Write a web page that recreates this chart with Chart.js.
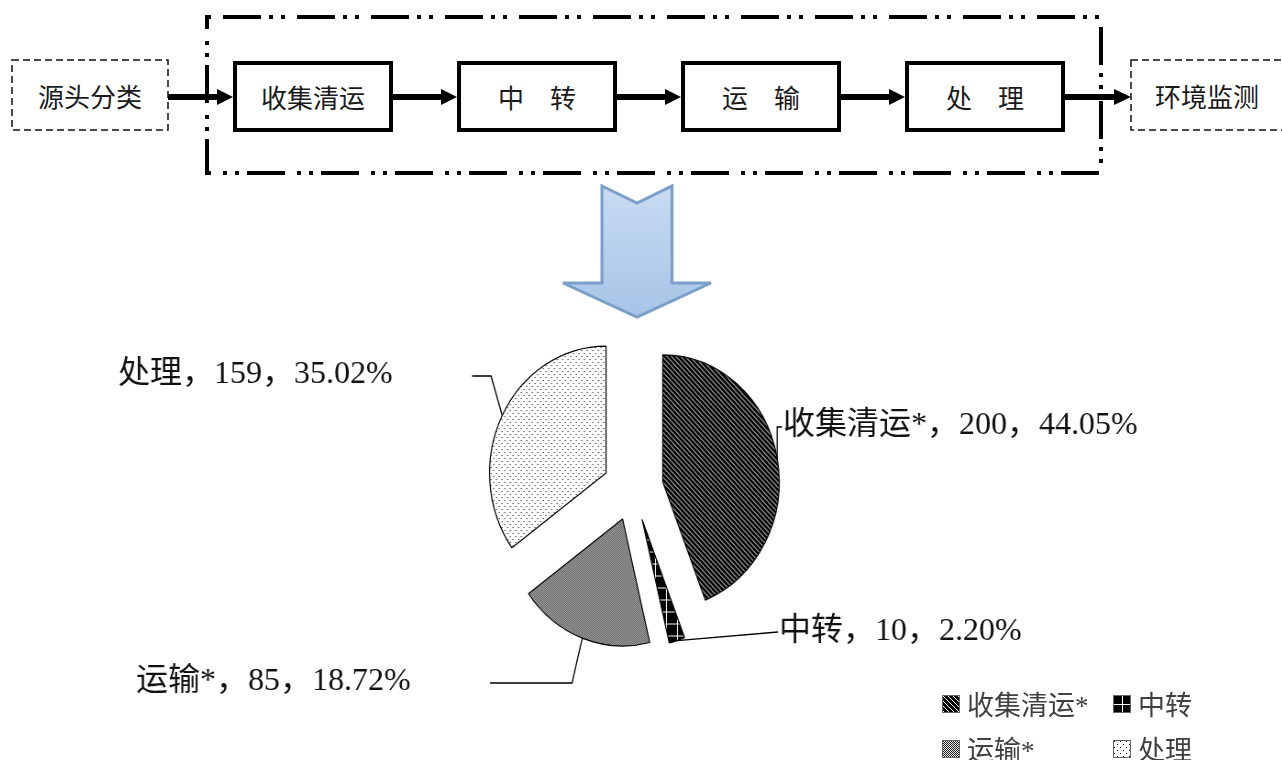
<!DOCTYPE html>
<html>
<head>
<meta charset="utf-8">
<script src="https://cdn.jsdelivr.net/npm/chart.js@4/dist/chart.umd.min.js"></script>
<style>
  html, body { margin: 0; width: 1282px; height: 760px; overflow: hidden; background: #fff; }
  #flow { position: absolute; left: 0; top: 0; }
  #flow text { font-family: 'Noto Sans CJK SC', sans-serif; font-size: 26px; fill: #1a1a1a; }
  #pieWrap { position: absolute; left: -67px; top: 238px; width: 1400px; height: 500px;
             transform: scaleX(0.917); transform-origin: 50% 50%; }
  #legend { position: absolute; left: 942px; top: 681px; display: grid;
            grid-template-columns: 171px 120px; grid-auto-rows: 45px;
            font-family: 'Liberation Serif', 'Noto Sans CJK SC', serif; font-size: 27px; color: #404040; }
  #legend .item { display: flex; align-items: center; }
  #legend canvas { margin-right: 7px; }
</style>
</head>
<body>

<!-- process flow above the pie -->
<svg id="flow" width="1282" height="330">
  <defs>
    <linearGradient id="downFill" x1="0" y1="0" x2="0" y2="1">
      <stop offset="0" stop-color="#c8dbf2"/>
      <stop offset="1" stop-color="#a6c4e7"/>
    </linearGradient>
  </defs>
  <rect x="207" y="17" width="894" height="156" fill="none" stroke="#000" stroke-width="4"
        stroke-dasharray="4 12 38 8 4 8"/>
  <rect x="12" y="60" width="156" height="70" fill="none" stroke="#111" stroke-width="1.5" stroke-dasharray="7 4"/>
  <rect x="1131" y="60" width="170" height="70" fill="none" stroke="#111" stroke-width="1.5" stroke-dasharray="7 4"/>
  <g fill="none" stroke="#000" stroke-width="4">
    <rect x="235" y="63" width="156" height="67"/>
    <rect x="459" y="63" width="156" height="67"/>
    <rect x="683" y="63" width="156" height="67"/>
    <rect x="907" y="63" width="156" height="67"/>
  </g>
  <g stroke="#000" stroke-width="6">
    <line x1="168" y1="97" x2="220" y2="97"/>
    <line x1="393" y1="97" x2="444" y2="97"/>
    <line x1="617" y1="97" x2="668" y2="97"/>
    <line x1="841" y1="97" x2="892" y2="97"/>
    <line x1="1065" y1="97" x2="1116" y2="97"/>
  </g>
  <g fill="#000">
    <polygon points="217,89 233,97 217,105"/>
    <polygon points="441,89 457,97 441,105"/>
    <polygon points="665,89 681,97 665,105"/>
    <polygon points="889,89 905,97 889,105"/>
    <polygon points="1114,89 1131,97 1114,105"/>
  </g>
  <g text-anchor="middle" dominant-baseline="central">
    <text x="90" y="95">源头分类</text>
    <text x="313" y="96">收集清运</text>
    <text x="537" y="96">中　转</text>
    <text x="761" y="96">运　输</text>
    <text x="985" y="96">处　理</text>
    <text x="1207" y="95">环境监测</text>
  </g>
  <polygon points="602,186 637,203 672,186 672,283 711,283 637,317 563,283 602,283"
           fill="url(#downFill)" stroke="#7b9fc9" stroke-width="3" stroke-linejoin="miter"/>
</svg>

<div id="pieWrap"><canvas id="pie" width="1400" height="500"></canvas></div>
<div id="legend"></div>

<script>
'use strict';

// ---- data ----
const categories = ['收集清运*', '中转', '运输*', '处理'];
const counts     = [200, 10, 85, 159];
const fillKinds  = ['hatch', 'grid', 'checker', 'dots'];

// ---- layout (screen px) ----
const SX = 0.917;            // pie is drawn a little narrower than tall
const WRAP_LEFT = -67, WRAP_TOP = 238, WRAP_W = 1400;
const PIE_RADIUS = 127;
const EXPLODE = 33;
const LABEL_FONT = "32px 'Liberation Serif', 'Noto Sans CJK SC', serif";

// leader elbows and text anchors, null x = straight up/down from the slice
const labelLayout = [
  { path: [[null, 427], [782, 427]], textX: 783, textY: 426 },
  { path: [[778, 632]],              textX: 779, textY: 632 },
  { path: [[572, 683], [490, 683]],  textX: 136, textY: 682 },
  { path: [[491, 376], [472, 376]],  textX: 118, textY: 375 },
];

function toCanvasX(sx) {
  const cx = WRAP_LEFT + WRAP_W / 2;
  return WRAP_W / 2 + (sx - cx) / SX;
}

// ---- fill patterns ----
function makeTile(kind) {
  const t = document.createElement('canvas');
  const c = t.getContext('2d');
  if (kind === 'hatch') {
    t.width = t.height = 5;
    c.fillStyle = '#000'; c.fillRect(0, 0, 5, 5);
    c.fillStyle = '#fff';
    for (let k = 0; k < 5; k++) c.fillRect(k, k, 1, 1);
  } else if (kind === 'grid') {
    t.width = t.height = 12;
    c.fillStyle = '#000'; c.fillRect(0, 0, 12, 12);
    c.fillStyle = '#fff';
    c.fillRect(6, 0, 1, 12); c.fillRect(0, 6, 12, 1);
  } else if (kind === 'checker') {
    t.width = t.height = 2;
    c.fillStyle = '#e6e6e6'; c.fillRect(0, 0, 2, 2);
    c.fillStyle = '#222'; c.fillRect(0, 0, 1, 1); c.fillRect(1, 1, 1, 1);
  } else {
    t.width = t.height = 6;
    c.fillStyle = '#fff'; c.fillRect(0, 0, 6, 6);
    c.fillStyle = '#000'; c.fillRect(1, 1, 1, 1); c.fillRect(4, 4, 1, 1);
  }
  return t;
}

function makePattern(ctx, kind) {
  return ctx.createPattern(makeTile(kind), 'repeat');
}

// ---- exploded pie: each arc pushed out along its bisector ----
class ExplodedArc extends Chart.ArcElement {
  static id = 'explodedArc';
  draw(ctx, area) {
    const mid = (this.startAngle + this.endAngle) / 2;
    ctx.save();
    ctx.translate(Math.cos(mid) * EXPLODE, Math.sin(mid) * EXPLODE);
    super.draw(ctx, area);
    ctx.restore();
  }
}

class ExplodedPie extends Chart.PieController {
  static id = 'explodedPie';
  static defaults = { dataElementType: 'explodedArc' };
}

Chart.register(ExplodedArc, ExplodedPie);

const pieLabels = {
  id: 'pieLabels',
  afterDatasetsDraw(chart) {
    const ctx = chart.ctx;
    const arcs = chart.getDatasetMeta(0).data;
    const total = counts.reduce((a, b) => a + b, 0);
    ctx.save();
    ctx.strokeStyle = '#000';
    ctx.lineWidth = 1.3;
    ctx.fillStyle = '#111';
    ctx.font = LABEL_FONT;
    ctx.textBaseline = 'middle';
    arcs.forEach((arc, i) => {
      const mid = (arc.startAngle + arc.endAngle) / 2;
      const r = arc.outerRadius + EXPLODE;
      const ax = arc.x + Math.cos(mid) * r;
      const ay = arc.y + Math.sin(mid) * r;
      const lay = labelLayout[i];
      ctx.beginPath();
      ctx.moveTo(ax, ay);
      lay.path.forEach(([px, py]) => {
        ctx.lineTo(px === null ? ax : toCanvasX(px), py - WRAP_TOP);
      });
      ctx.stroke();

      const pct = (counts[i] / total * 100).toFixed(2);
      const text = categories[i] + '，' + counts[i] + '，' + pct + '%';
      ctx.save();
      ctx.translate(toCanvasX(lay.textX), lay.textY - WRAP_TOP);
      ctx.scale(1 / SX, 1);
      ctx.fillText(text, 0, 0);
      ctx.restore();
    });
    ctx.restore();
  }
};

const pieCanvas = document.getElementById('pie');
const pieCtx = pieCanvas.getContext('2d');

const chart = new Chart(pieCanvas, {
  type: 'explodedPie',
  data: {
    labels: categories,
    datasets: [{
      data: counts,
      backgroundColor: fillKinds.map(k => makePattern(pieCtx, k)),
      borderColor: '#000',
      borderWidth: 1.2,
      radius: PIE_RADIUS,
    }]
  },
  options: {
    responsive: false,
    animation: false,
    events: [],
    layout: { padding: 0 },
    plugins: { legend: { display: false }, tooltip: { enabled: false } }
  },
  plugins: [pieLabels]
});

// ---- legend (2 x 2, bottom right) ----
const legendEl = document.getElementById('legend');
chart.options.plugins.legend.labels.generateLabels(chart).forEach((item, i) => {
  const row = document.createElement('div');
  row.className = 'item';
  const sw = document.createElement('canvas');
  sw.width = 18; sw.height = 18;
  const c = sw.getContext('2d');
  c.save();
  c.translate(3, 3);
  c.fillStyle = makePattern(c, fillKinds[i]);
  c.fillRect(-3, -3, 18, 18);
  c.restore();
  c.strokeStyle = '#666';
  c.lineWidth = 1;
  c.strokeRect(0.5, 0.5, 17, 17);
  const label = document.createElement('span');
  label.textContent = item.text;
  row.appendChild(sw);
  row.appendChild(label);
  legendEl.appendChild(row);
});
</script>
</body>
</html>
